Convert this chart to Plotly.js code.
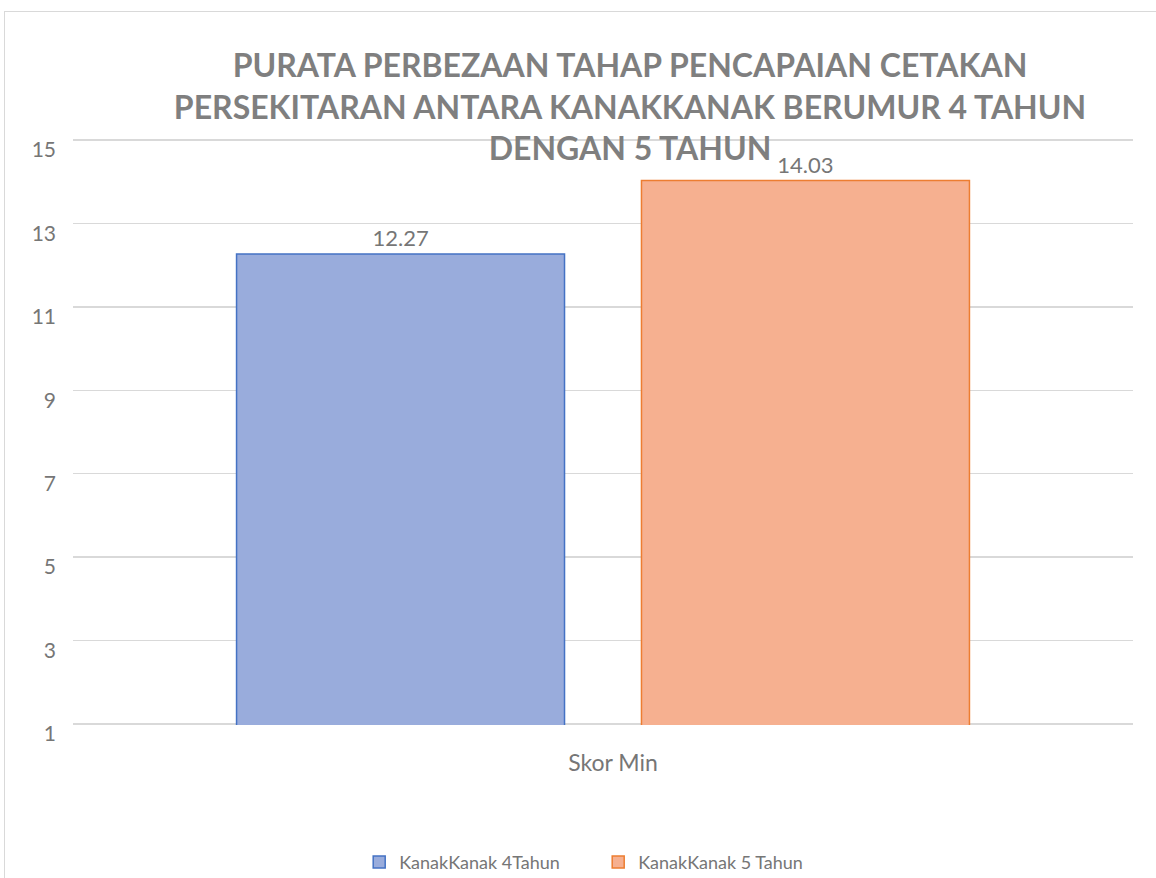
<!DOCTYPE html>
<html>
<head>
<meta charset="utf-8">
<script src="https://cdn.plot.ly/plotly-3.0.1.min.js"></script>
<style>
  html, body { margin: 0; padding: 0; background: #ffffff; overflow: hidden; }
  #frame { position: absolute; left: 4px; top: 11px; width: 1170px; height: 890px; border: 1px solid #d9d9d9; box-sizing: border-box; }
  #chart { position: absolute; left: 0; top: 0; width: 1156px; height: 878px; }
</style>
</head>
<body>
<div id="frame"></div>
<div id="chart"></div>
<script>
const categories = ["Skor Min"];
const seriesNames = ["KanakKanak 4Tahun", "KanakKanak 5 Tahun"];
const series4 = [12.27];
const series5 = [14.03];
const yTicks = [1, 3, 5, 7, 9, 11, 13, 15];

const textColor = "#767676";
const font = "Lato, 'Open Sans', sans-serif";

const traces = [
  {
    type: "bar", name: seriesNames[0], x: categories, y: series4,
    marker: { color: "#99acdc", line: { color: "#4472c4", width: 1.5 } },
    text: series4.map(v => v.toFixed(2)), textposition: "outside",
    textfont: { color: textColor, size: 22, family: font },
    cliponaxis: false, hoverinfo: "none"
  },
  {
    type: "bar", name: seriesNames[1], x: categories, y: series5,
    marker: { color: "#f6b090", line: { color: "#ed7d31", width: 1.5 } },
    text: series5.map(v => v.toFixed(2)), textposition: "outside",
    textfont: { color: textColor, size: 22, family: font },
    cliponaxis: false, hoverinfo: "none"
  }
];

const layout = {
  width: 1156, height: 878,
  margin: { l: 73, r: 23, t: 139, b: 153 },
  paper_bgcolor: "rgba(0,0,0,0)",
  plot_bgcolor: "rgba(0,0,0,0)",
  font: { family: font, color: textColor, size: 18 },
  title: {
    text: "PURATA PERBEZAAN TAHAP PENCAPAIAN CETAKAN<br>PERSEKITARAN ANTARA KANAKKANAK BERUMUR 4 TAHUN<br>DENGAN 5 TAHUN",
    font: { family: font, size: 32, color: "#7f7f7f", weight: 700 },
    x: 0.545, xanchor: "center", y: 0.912, yanchor: "middle", yref: "container"
  },
  barmode: "group",
  bargap: 0.236,
  bargroupgap: 0.19,
  showlegend: true,
  legend: {
    orientation: "h", x: 0.27, xanchor: "left",
    yref: "container", y: 0.018, yanchor: "middle",
    font: { family: font, size: 18, color: textColor },
    entrywidth: 194, entrywidthmode: "pixels",
    itemwidth: 30
  },
  xaxis: {
    type: "category",
    showgrid: false, showline: false, zeroline: false,
    ticks: "", tickfont: { size: 23, color: textColor },
    ticklabelstandoff: 22, ticklabelshift: 10
  },
  yaxis: {
    range: [0.975, 15.025], tickvals: yTicks, ticktext: yTicks.map(String),
    showgrid: true, gridcolor: "#d9d9d9", gridwidth: 1.5,
    zeroline: false, showline: false, ticks: "",
    tickfont: { size: 21, color: textColor },
    ticklabelshift: 10, ticklabelstandoff: 16
  }
};

Plotly.newPlot("chart", traces, layout, { staticPlot: true, displayModeBar: false });
</script>
</body>
</html>
